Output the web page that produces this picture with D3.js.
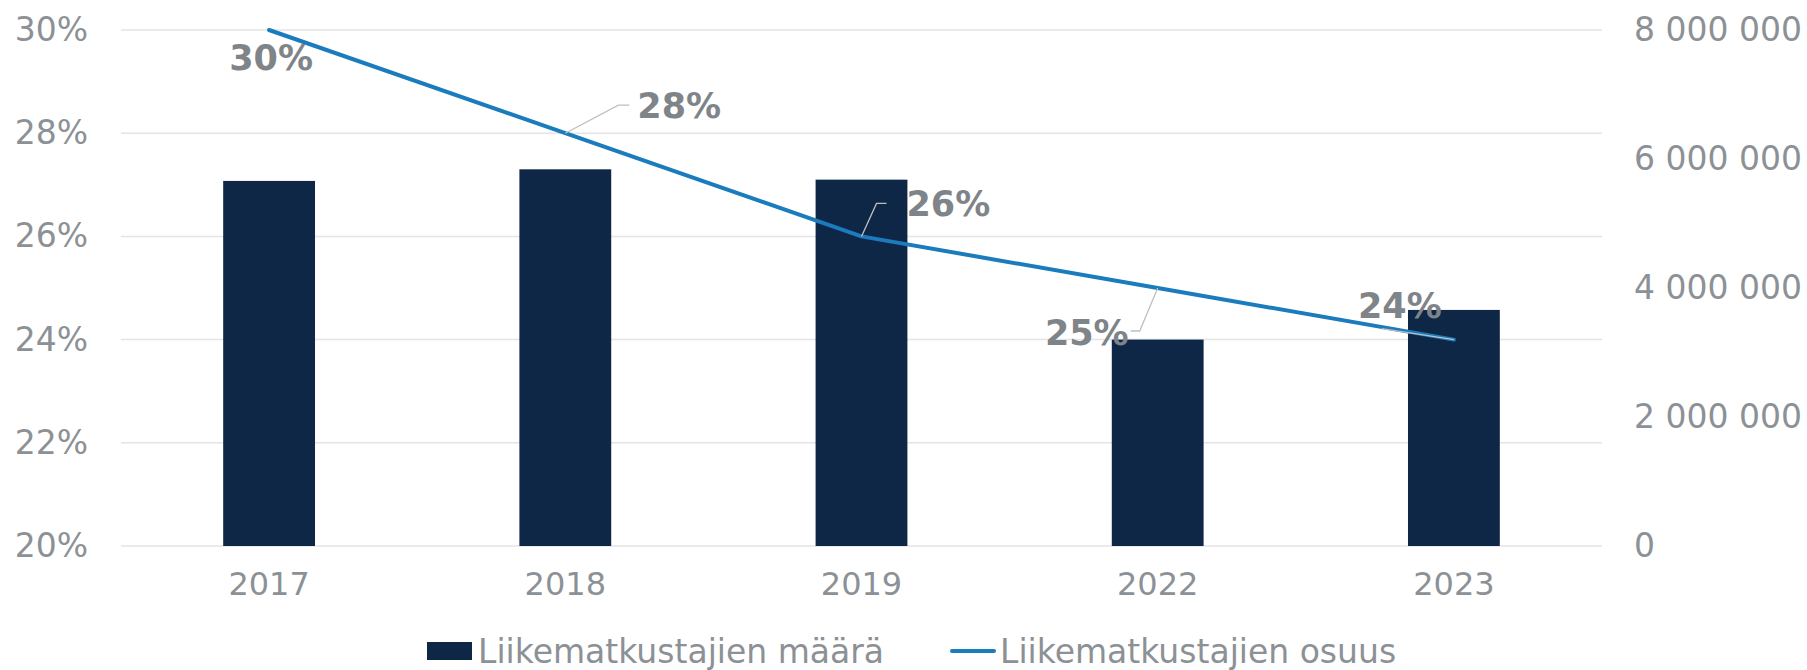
<!DOCTYPE html>
<html>
<head>
<meta charset="utf-8">
<script src="https://cdn.jsdelivr.net/npm/d3@7"></script>
<style>
  body { margin: 0; background: #fff; }
  text { font-family: "DejaVu Sans", Verdana, sans-serif; }
</style>
</head>
<body>
<svg width="1807" height="670"></svg>
<script>
// data
var years = ["2017", "2018", "2019", "2022", "2023"];
var travellers = [5660000, 5840000, 5680000, 3200000, 3660000];   // Liikematkustajien määrä
var share = [0.30, 0.28, 0.26, 0.25, 0.24];                       // Liikematkustajien osuus
var shareLabels = ["30%", "28%", "26%", "25%", "24%"];
var leftTicks = [0.20, 0.22, 0.24, 0.26, 0.28, 0.30];
var rightTicks = [0, 2000000, 4000000, 6000000, 8000000];

// label placement (layout only)
var labelPos = [
    { dx: 2,   dy: 40,  anchor: "middle", leader: null },
    { dx: 72,  dy: -15, anchor: "start",  leader: [[53, -28], [64, -28]] },
    { dx: 45,  dy: -20, anchor: "start",  leader: [[15, -33], [25, -33]] },
    { dx: -29, dy: 57,  anchor: "end",    leader: [[-18, 43], [-27, 43]] },
    { dx: -54, dy: -22, anchor: "middle", leader: [[-72, -11]] }
];

var svg = d3.select("svg");

var plotLeft = 121, plotRight = 1602, plotTop = 30, plotBottom = 546;
var axisColor = "#8c9196";
var tickSize = "33px";

var x = d3.scaleBand()
    .domain(years)
    .range([plotLeft, plotRight])
    .paddingInner(0.69)
    .paddingOuter(0.345);

var yLeft = d3.scaleLinear().domain([0.20, 0.30]).range([plotBottom, plotTop]);
var yRight = d3.scaleLinear().domain([0, 8000000]).range([plotBottom, plotTop]);

// gridlines
svg.append("g")
    .selectAll("line")
    .data(leftTicks)
    .enter()
    .append("line")
    .attr("x1", plotLeft)
    .attr("x2", plotRight)
    .attr("y1", d => yLeft(d))
    .attr("y2", d => yLeft(d))
    .style("stroke", "#e4e4e4")
    .style("stroke-width", 1.5);

// left axis
var yAxisLeft = d3.axisLeft(yLeft).tickValues(leftTicks).tickFormat(d3.format(".0%")).tickSize(0).tickPadding(33);
var gl = svg.append("g").attr("transform", `translate(${plotLeft}, 0)`).call(yAxisLeft);
gl.select(".domain").remove();
gl.selectAll("text").style("font-size", tickSize).style("fill", axisColor).style("font-family", "DejaVu Sans");

// right axis
var fmt = d3.format(",");
var yAxisRight = d3.axisRight(yRight).tickValues(rightTicks).tickFormat(d => fmt(d).replace(/,/g, " ")).tickSize(0).tickPadding(32);
var gr = svg.append("g").attr("transform", `translate(${plotRight}, 0)`).call(yAxisRight);
gr.select(".domain").remove();
gr.selectAll("text").style("font-size", tickSize).style("fill", axisColor).style("font-family", "DejaVu Sans");

// x axis
var xAxis = d3.axisBottom(x).tickSize(0).tickPadding(26);
var gx = svg.append("g").attr("transform", `translate(0, ${plotBottom})`).call(xAxis);
gx.select(".domain").remove();
gx.selectAll("text").style("font-size", "32px").style("fill", axisColor).style("font-family", "DejaVu Sans");

// bars
svg.append("g")
    .selectAll("rect")
    .data(travellers)
    .enter()
    .append("rect")
    .attr("x", (d, i) => x(years[i]))
    .attr("y", d => yRight(d))
    .attr("width", x.bandwidth())
    .attr("height", d => plotBottom - yRight(d))
    .style("fill", "#0e2746");

// line
var pts = share.map((d, i) => [x(years[i]) + x.bandwidth() / 2, yLeft(d)]);
svg.append("path")
    .datum(pts)
    .attr("d", d3.line())
    .style("fill", "none")
    .style("stroke", "#1a7bbd")
    .style("stroke-width", 4)
    .style("stroke-linecap", "round")
    .style("stroke-linejoin", "round");

// leader lines
labelPos.forEach((p, i) => {
    if (!p.leader) return;
    var path = [[0, 0]].concat(p.leader).map(o => [pts[i][0] + o[0], pts[i][1] + o[1]]);
    svg.append("path")
        .attr("d", d3.line()(path))
        .style("fill", "none")
        .style("stroke", "#bfbfbf")
        .style("stroke-width", 1.3);
});

// data labels
svg.append("g")
    .selectAll("text")
    .data(shareLabels)
    .enter()
    .append("text")
    .attr("x", (d, i) => pts[i][0] + labelPos[i].dx)
    .attr("y", (d, i) => pts[i][1] + labelPos[i].dy)
    .attr("text-anchor", (d, i) => labelPos[i].anchor)
    .style("font-size", "35px")
    .style("font-weight", "bold")
    .style("fill", "#7f8489")
    .text(d => d);

// legend
var legend = svg.append("g").attr("transform", "translate(0, 651)");
legend.append("rect")
    .attr("x", 427).attr("y", -9).attr("width", 45).attr("height", 18)
    .style("fill", "#0e2746");
legend.append("text")
    .attr("x", 478).attr("y", 0).attr("dy", "0.35em")
    .style("font-size", "33px").style("fill", axisColor)
    .text("Liikematkustajien määrä");
legend.append("line")
    .attr("x1", 952).attr("x2", 994).attr("y1", 0).attr("y2", 0)
    .style("stroke", "#1a7bbd").style("stroke-width", 4).style("stroke-linecap", "round");
legend.append("text")
    .attr("x", 1000).attr("y", 0).attr("dy", "0.35em")
    .style("font-size", "33px").style("fill", axisColor)
    .text("Liikematkustajien osuus");
</script>
</body>
</html>
